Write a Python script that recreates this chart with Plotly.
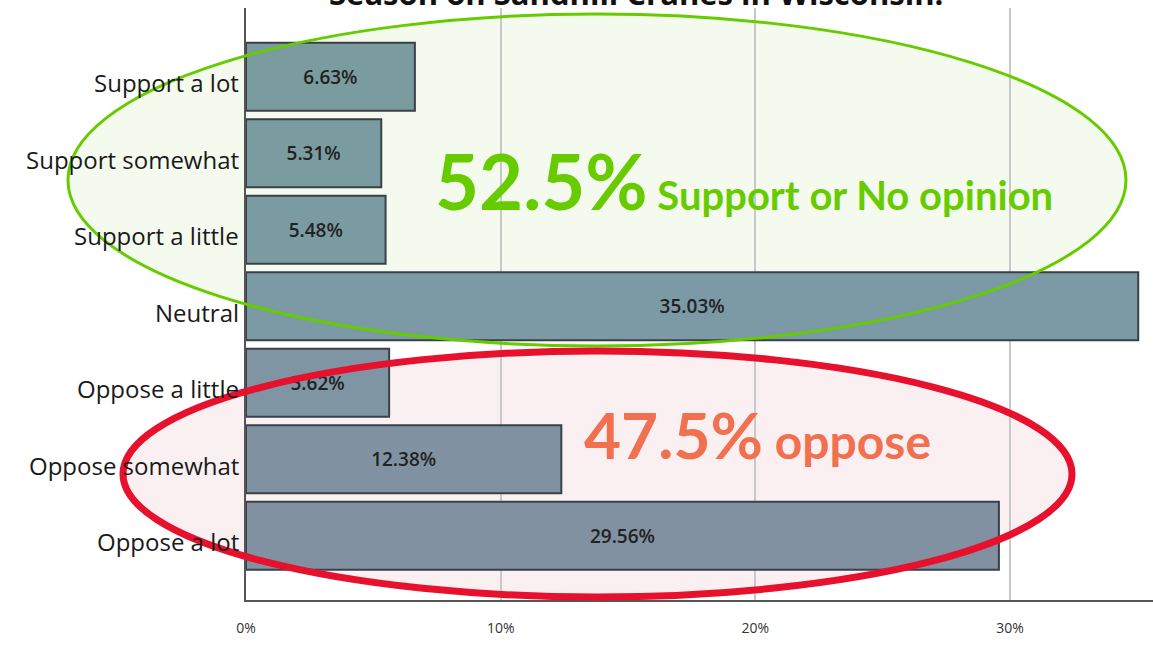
import plotly.graph_objects as go

categories = ['Support a lot', 'Support somewhat', 'Support a little', 'Neutral',
              'Oppose a little', 'Oppose somewhat', 'Oppose a lot']
percents = [6.63, 5.31, 5.48, 35.03, 5.62, 12.38, 29.56]
bar_colors = ['#7a9c9f', '#7a9ca0', '#7a9ba2', '#7b9aa6', '#7f95a4', '#8092a2', '#8191a1']
x_ticks = [0, 10, 20, 30]
x_tick_labels = ['0%', '10%', '20%', '30%']

support_share = '52.5%'
oppose_share = '47.5%'

fig = go.Figure(go.Bar(
    y=categories,
    x=percents,
    orientation='h',
    marker=dict(color=bar_colors, line=dict(color='#3a4048', width=2)),
    width=0.89,
    text=[f'{p:.2f}%' for p in percents],
    textposition='inside',
    insidetextanchor='middle',
    textangle=0,
    textfont=dict(family='Open Sans', size=19, color='#222222', weight=600),
    hoverinfo='skip',
))

# ellipses: fill behind the bars, outline on top
green_box = dict(x0=-0.1963, x1=0.9702, y0=0.4291, y1=0.9899)
red_box = dict(x0=-0.1356, x1=0.9107, y0=0.0051, y1=0.4206)
shapes = [
    dict(type='circle', xref='paper', yref='paper', layer='below',
         fillcolor='rgba(236,246,225,0.6)', line=dict(width=0), **green_box),
    dict(type='circle', xref='paper', yref='paper', layer='below',
         fillcolor='rgba(248,228,230,0.55)', line=dict(width=0), **red_box),
    dict(type='circle', xref='paper', yref='paper', layer='above',
         line=dict(color='#66cc00', width=3), **green_box),
    dict(type='circle', xref='paper', yref='paper', layer='above',
         line=dict(color='#e8112d', width=7), **red_box),
]

# category labels as annotations, sitting a little below the bar centres
label_notes = [
    dict(text=c, xref='paper', yref='y', x=0, y=c, xanchor='right', yanchor='middle',
         xshift=-5, yshift=-6, showarrow=False,
         font=dict(family='Open Sans', size=24, color='#1a1a1a'))
    for c in categories
]

fig.update_layout(
    width=1153, height=645,
    margin=dict(l=246, r=0, t=8, b=45, autoexpand=False),
    plot_bgcolor='rgba(0,0,0,0)',
    paper_bgcolor='white',
    showlegend=False,
    shapes=shapes,
    annotations=label_notes + [
        # title is cut off at the top edge, as in the original picture
        dict(text='<b>Season on Sandhill Cranes in Wisconsin.</b>',
             xref='paper', yref='paper', x=0.43, y=0.9865,
             xanchor='center', yanchor='bottom', showarrow=False,
             font=dict(family='Open Sans', size=31, color='#111111')),
        dict(text=f'<b><span style="font-size:76px">{support_share}</span> Support or No opinion</b>',
             xref='paper', yref='paper', x=0.2062, y=0.7085,
             xanchor='left', yanchor='middle', showarrow=False,
             font=dict(family='Lato', size=40, color='#66cc00')),
        dict(text=f'<b><span style="font-size:64px">{oppose_share}</span> oppose</b>',
             xref='paper', yref='paper', x=0.3705, y=0.280,
             xanchor='left', yanchor='middle', showarrow=False,
             font=dict(family='Lato', size=48, color='#f07050')),
    ],
)

fig.update_xaxes(
    range=[0, 35.61],
    tickvals=x_ticks,
    ticktext=x_tick_labels,
    showgrid=True, gridcolor='#c8c8c8', gridwidth=1.5,
    showline=True, linecolor='#555555', linewidth=2,
    zeroline=False,
    ticks='', ticklabelstandoff=14,
    tickfont=dict(family='Open Sans', size=14, color='#333333'),
)
fig.update_yaxes(
    categoryorder='array', categoryarray=categories,
    range=[6.84, -0.9],
    showline=True, linecolor='#555555', linewidth=2,
    showgrid=False, showticklabels=False,
    ticks='',
)

fig.write_html('out.html', config={'displayModeBar': False},
               post_script="document.body.style.margin = '0';")
